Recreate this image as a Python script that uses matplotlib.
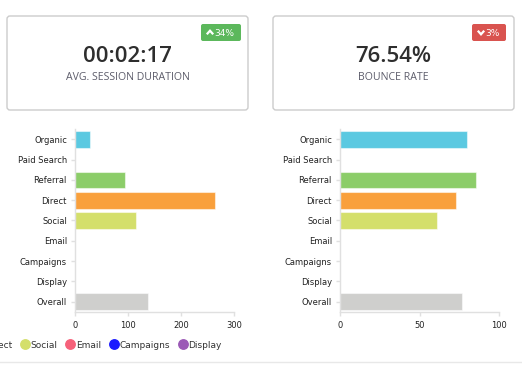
import numpy as np
import matplotlib
matplotlib.use("Agg")
import matplotlib.pyplot as plt
from matplotlib.patches import FancyBboxPatch
from matplotlib.lines import Line2D

# channel data
channels = ["Organic", "Paid Search", "Referral", "Direct", "Social",
            "Email", "Campaigns", "Display", "Overall"]
duration = [28, 0, 94, 265, 114, 0, 0, 0, 137]
bounce = [79.6, 0, 85.7, 72.9, 61.1, 0, 0, 0, 76.54]
bar_colors = ["#5bc9e1", "#e5e5e5", "#8ccd69", "#f9a03c", "#d4df6b",
              "#f6617a", "#1a1aff", "#9b59b6", "#cfcfcd"]

duration_ticks = [0, 100, 200, 300]
bounce_ticks = [0, 50, 100]

kpi_values = ["00:02:17", "76.54%"]
kpi_labels = ["AVG. SESSION DURATION", "BOUNCE RATE"]
kpi_badges = ["34%", "3%"]
kpi_up = [True, False]
badge_colors = ["#5cb85c", "#d9534f"]

W, H = 522, 372
fig = plt.figure(figsize=(W / 100, H / 100), dpi=100)
fig.patch.set_facecolor("white")

# background layer in pixel coords for cards and separator
bg = fig.add_axes([0, 0, 1, 1])
bg.set_xlim(0, W)
bg.set_ylim(H, 0)
bg.axis("off")

cards = [(7, 16, 241, 94), (273, 16, 241, 94)]
badges = [(201, 24, 40, 17), (472, 24, 34, 17)]
for i, (x, y, w, h) in enumerate(cards):
    bg.add_patch(FancyBboxPatch((x + 3, y + 3), w - 6, h - 6,
                                boxstyle="round,pad=3", fc="white",
                                ec="#cccccc", lw=1.0))
    cx = x + w / 2
    bg.text(cx, 56, kpi_values[i], ha="center", va="center",
            family="Open Sans", fontsize=16, fontweight=600, color="#2e2e2e")
    bg.text(cx, 77, kpi_labels[i], ha="center", va="center",
            family="Open Sans", fontsize=7.6, color="#5c5c6a")
    bx, by, bw, bh = badges[i]
    bg.add_patch(FancyBboxPatch((bx + 2, by + 2), bw - 4, bh - 4,
                                boxstyle="round,pad=2", fc=badge_colors[i],
                                ec="none"))
    # chevron (y axis points down here)
    chx = bx + 9
    cy = by + bh / 2
    s = 1.8 if kpi_up[i] else -1.8
    bg.plot([chx - 3.2, chx, chx + 3.2], [cy + s, cy - s, cy + s],
            color="white", lw=1.6, solid_capstyle="butt", solid_joinstyle="miter")
    bg.text(chx + 4.5, cy + 0.5, kpi_badges[i], ha="left",
            va="center", fontsize=6.5, color="white", family="DejaVu Sans")

bg.plot([0, W], [362, 362], color="#e8e8e8", lw=1)


def bar_panel(rect, values, ticks):
    ax = fig.add_axes(rect)
    y = np.arange(len(channels))
    ax.barh(y, values, height=0.82, color=bar_colors,
            edgecolor=(1, 1, 1, 0.5), lw=0.8)
    ax.set_ylim(len(channels) - 0.5, -0.5)
    ax.set_xlim(ticks[0], ticks[-1])
    ax.set_yticks(y)
    ax.set_yticklabels(channels)
    ax.set_xticks(ticks)
    for s in ["top", "right"]:
        ax.spines[s].set_visible(False)
    for s in ["left", "bottom"]:
        ax.spines[s].set_color("#e0e0e0")
        ax.spines[s].set_linewidth(1)
    ax.tick_params(axis="y", length=3, width=1, color="#e0e0e0", pad=3,
                   labelsize=6.0, labelcolor="#222222")
    ax.tick_params(axis="x", length=3, width=1, color="#e0e0e0", pad=4,
                   labelsize=6.0, labelcolor="#222222")
    return ax


bar_panel([75.3 / W, 1 - 311.7 / H, 158.7 / W, 182.4 / H], duration, duration_ticks)
bar_panel([340.3 / W, 1 - 311.7 / H, 158.7 / W, 182.4 / H], bounce, bounce_ticks)

# legend, cut off at the left edge like the reference (from Direct onward)
handles = [Line2D([], [], marker="o", ls="none", ms=6.8, mfc=c, mec=c)
           for c in bar_colors[3:8]]
leg = fig.legend(handles, channels[3:8], ncol=5, loc="center right",
                 bbox_to_anchor=(226.5 / W, 1 - 345 / H), frameon=False,
                 fontsize=6.5, handlelength=0.8, handletextpad=0.25,
                 columnspacing=1.0, borderpad=0)
for t in leg.get_texts():
    t.set_color("#333333")

fig.savefig("out.png", dpi=100)
